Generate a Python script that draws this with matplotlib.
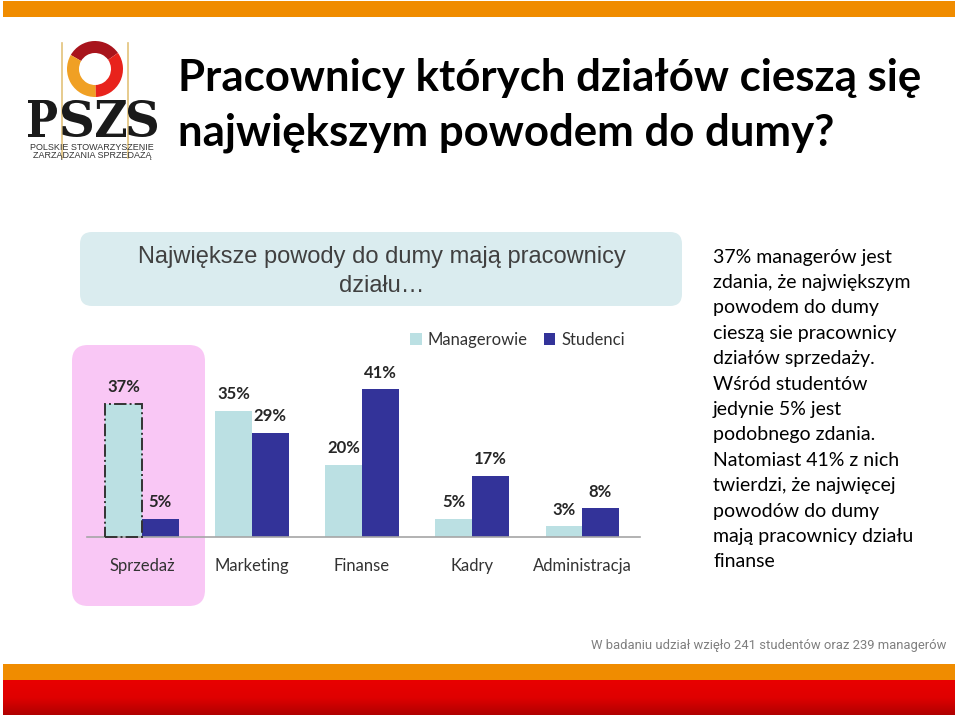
import numpy as np
import matplotlib
matplotlib.use("Agg")
import matplotlib.pyplot as plt
from matplotlib.patches import Rectangle, FancyBboxPatch, Wedge, PathPatch
from matplotlib.textpath import TextPath
from matplotlib.font_manager import FontProperties
from matplotlib.transforms import Affine2D
from matplotlib.colors import LinearSegmentedColormap

# ---------------- data ----------------
categories = ["Sprzedaż", "Marketing", "Finanse", "Kadry", "Administracja"]
managerowie = [37, 35, 20, 5, 3]
studenci = [5, 29, 41, 17, 8]
series_names = ["Managerowie", "Studenci"]

title_lines = ["Pracownicy których działów cieszą się",
               "największym powodem do dumy?"]
box_lines = ["Największe powody do dumy mają pracownicy", "działu…"]
side_lines = ["37% managerów jest", "zdania, że największym", "powodem do dumy",
              "cieszą sie pracownicy", "działów sprzedaży.", "Wśród studentów",
              "jedynie 5% jest", "podobnego zdania.", "Natomiast 41% z nich",
              "twierdzi, że najwięcej", "powodów do dumy",
              "mają pracownicy działu", "finanse"]
footer = "W badaniu udział wzięło 241 studentów oraz 239 managerów"
logo_small = ["POLSKIE STOWARZYSZENIE", "ZARZĄDZANIA SPRZEDAŻĄ"]

LIGHT = "#BBE0E3"
DARK = "#333399"
FONT = "Lato"

W, H = 960, 716
fig = plt.figure(figsize=(W / 100, H / 100), dpi=100)
fig.patch.set_facecolor("white")

# overlay axes in pixel coordinates (y up)
ov = fig.add_axes([0, 0, 1, 1], zorder=0)
ov.set_xlim(0, W)
ov.set_ylim(0, H)
ov.axis("off")


def Y(py):
    return H - py


# top orange band
ov.add_patch(Rectangle((3, Y(17)), 952, 16, color="#F08C00", lw=0))
# bottom bands
ov.add_patch(Rectangle((3, Y(680)), 952, 16, color="#F08C00", lw=0))
grad = np.linspace(0, 1, 50).reshape(-1, 1)
cm_red = LinearSegmentedColormap.from_list("r", ["#E80000", "#E00000", "#B00000"])
ov.imshow(grad, extent=(3, 955, Y(715), Y(680)), cmap=cm_red, aspect="auto",
          origin="upper", zorder=1)

# ---------------- logo ----------------
for lx in (62, 128):
    ov.plot([lx, lx], [Y(43), Y(158)], color="#E3C27A", lw=1.2, zorder=1)
cx, cy = 95, Y(69)
ov.add_patch(Wedge((cx, cy), 28, 35, 150, width=12, color="#A8141C", lw=0, zorder=2))
ov.add_patch(Wedge((cx, cy), 28, 150, 272, width=12, color="#F0A024", lw=0, zorder=2))
ov.add_patch(Wedge((cx, cy), 28, 272, 395, width=12, color="#E8231C", lw=0, zorder=2))

fp_logo = FontProperties(family="DejaVu Serif", weight="bold")
letter_boxes = [(28, 57), (62, 92), (96, 126), (128, 157)]
for ch, (x0, x1) in zip("PSZS", letter_boxes):
    tp = TextPath((0, 0), ch, size=1, prop=fp_logo)
    bb = tp.get_extents()
    sx = (x1 - x0) / bb.width
    sy = 37 / bb.height
    tr = Affine2D().translate(-bb.x0, -bb.y0).scale(sx, sy).translate(x0, Y(137))
    ov.add_patch(PathPatch(tr.transform_path(tp), color="#1A1A1A", lw=0, zorder=2))
for i, t in enumerate(logo_small):
    ov.text(92, Y(147 + i * 8.5), t, ha="center", va="center", fontsize=6.5,
            family="Liberation Sans", color="#333333")

# ---------------- title ----------------
for i, t in enumerate(title_lines):
    ov.text(178, Y(78 + i * 55), t, ha="left", va="center", fontsize=31.5,
            family=FONT, fontweight="bold", color="#000000")

# ---------------- blue box ----------------
ov.add_patch(FancyBboxPatch((80, Y(306)), 602, 74,
                            boxstyle="round,pad=0,rounding_size=12",
                            fc="#DAECEF", ec="none", lw=0))
for i, t in enumerate(box_lines):
    ov.text(382, Y(257 + i * 29), t, ha="center", va="center", fontsize=17,
            family="Liberation Sans", color="#404040")

# pink highlight box
ov.add_patch(FancyBboxPatch((72, Y(606)), 133, 261,
                            boxstyle="round,pad=0,rounding_size=16",
                            fc="#F9C7F5", ec="none", lw=0))

# ---------------- side text ----------------
for i, t in enumerate(side_lines):
    ov.text(713, Y(257 + i * 25.4), t, ha="left", va="center", fontsize=14,
            family=FONT, color="#000000")

# footer
ov.text(946, Y(646), footer, ha="right", va="center", fontsize=9.4,
        family="Roboto", color="#7F7F7F")

# ---------------- bar chart ----------------
base_px, top_px = 537, 345
left_px, right_px = 87, 640
ax = fig.add_axes([left_px / W, (H - base_px) / H, (right_px - left_px) / W,
                   (base_px - top_px) / H], zorder=2)
ax.patch.set_alpha(0)
ax.set_xlim(-0.5, 4.527)
ax.set_ylim(0, 192 / 3.6)
x = np.arange(len(categories))
bw = 0.332
b1 = ax.bar(x - bw / 2, managerowie, bw, color=LIGHT, lw=0, label=series_names[0])
b2 = ax.bar(x + bw / 2, studenci, bw, color=DARK, lw=0, label=series_names[1])
# dashed outline on highlighted bar
r = b1[0]
ax.add_patch(Rectangle((r.get_x(), 0), r.get_width(), r.get_height(), fill=False,
                       ec="#333333", lw=1.4, ls="-.", zorder=3, clip_on=False))

for bars, vals in ((b1, managerowie), (b2, studenci)):
    for b, v in zip(bars, vals):
        ax.annotate(f"{v}%", (b.get_x() + b.get_width() / 2, v),
                    xytext=(0, 12), textcoords="offset points", ha="center",
                    va="center", fontsize=12, fontweight="bold", family=FONT,
                    color="#262626")

for s in ("top", "right", "left"):
    ax.spines[s].set_visible(False)
ax.spines["bottom"].set_color("#A6A6A6")
ax.spines["bottom"].set_linewidth(1.2)
ax.set_yticks([])
ax.set_xticks(x)
ax.set_xticklabels(categories, family=FONT, fontsize=12, color="#333333")
ax.tick_params(axis="x", length=0, pad=15)

# legend
leg = ax.legend(loc="center left", bbox_to_anchor=(410, Y(340)),
                bbox_transform=ov.transData, borderpad=0, borderaxespad=0,
                ncol=2, frameon=False, prop=FontProperties(family=FONT, size=12),
                handlelength=0.7, handleheight=0.7, handletextpad=0.36,
                columnspacing=0.95, labelcolor="#333333")

fig.savefig("out.png", dpi=100)
